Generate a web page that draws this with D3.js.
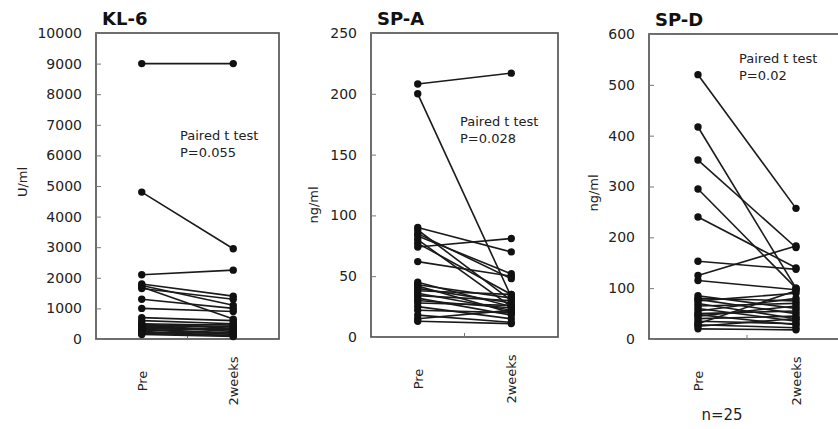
<!DOCTYPE html>
<html>
<head>
<meta charset="utf-8">
<script src="https://cdn.jsdelivr.net/npm/d3@7"></script>
<style>
  body { margin: 0; background: #fff; }
  svg { display: block; }
  text { font-family: "DejaVu Sans", sans-serif; }
</style>
</head>
<body>
<svg width="838" height="429"></svg>
<script>
// time points
var timepoints = ['Pre', '2weeks'];

// KL-6 (U/ml)
var klPre = [9000, 4800, 2100, 1800, 1750, 1700, 1650, 1300, 1000, 700, 600, 500, 480, 450, 420, 400, 380, 350, 320, 300, 280, 250, 200, 180, 150];
var kl2w  = [9000, 2950, 2250, 1400, 1100, 650, 1300, 1000, 900, 600, 500, 450, 350, 400, 300, 250, 500, 300, 200, 150, 350, 100, 200, 120, 80];
var klTicks = [0, 1000, 2000, 3000, 4000, 5000, 6000, 7000, 8000, 9000, 10000];

// SP-A (ng/ml)
var spaPre = [208, 200, 90, 88, 85, 83, 80, 77, 74, 62, 45, 43, 42, 40, 38, 36, 34, 32, 30, 28, 25, 22, 18, 15, 13];
var spa2w  = [217, 33, 70, 30, 48, 52, 25, 35, 81, 50, 25, 32, 20, 28, 35, 22, 30, 18, 24, 26, 15, 20, 12, 22, 11];
var spaTicks = [0, 50, 100, 150, 200, 250];

// SP-D (ng/ml)
var spdPre = [520, 417, 352, 295, 240, 153, 125, 115, 85, 80, 78, 75, 70, 65, 60, 55, 50, 48, 45, 40, 35, 30, 28, 25, 20];
var spd2w  = [257, 100, 180, 100, 140, 137, 183, 97, 60, 75, 50, 90, 40, 70, 35, 80, 55, 28, 65, 45, 30, 95, 22, 40, 18];
var spdTicks = [0, 100, 200, 300, 400, 500, 600];

var panels = [
  {title: 'KL-6', unit: 'U/ml', pre: klPre, post: kl2w, ticks: klTicks, max: 10000,
   left: 96, right: 279, top: 33, bottom: 339, unitX: 22, unitY: 182,
   note: ['Paired t test', 'P=0.055'], noteX: 180, noteY: 140},
  {title: 'SP-A', unit: 'ng/ml', pre: spaPre, post: spa2w, ticks: spaTicks, max: 250,
   left: 371, right: 558, top: 33, bottom: 337, unitX: 313, unitY: 205,
   note: ['Paired t test', 'P=0.028'], noteX: 460, noteY: 126},
  {title: 'SP-D', unit: 'ng/ml', pre: spdPre, post: spd2w, ticks: spdTicks, max: 600,
   left: 649, right: 845, top: 34, bottom: 339, unitX: 593, unitY: 193,
   note: ['Paired t test', 'P=0.02'], noteX: 739, noteY: 63}
];

var svg = d3.select('svg');

panels.forEach(function(p) {
  var g = svg.append('g');

  var y = d3.scaleLinear().domain([0, p.max]).range([p.bottom, p.top]);
  var x = d3.scalePoint().domain(timepoints).range([p.left, p.right]).padding(0.5);

  // frame
  g.append('rect')
    .attr('x', p.left).attr('y', p.top)
    .attr('width', p.right - p.left).attr('height', p.bottom - p.top)
    .attr('fill', 'none').attr('stroke', '#555').attr('stroke-width', 1.7);

  // y axis, ticks pointing inside
  var ya = g.append('g')
    .attr('transform', 'translate(' + p.left + ',0)')
    .call(d3.axisLeft(y).tickValues(p.ticks).tickSizeInner(-5).tickSizeOuter(0).tickPadding(14).tickFormat(d3.format('d')));
  ya.select('.domain').remove();
  ya.selectAll('line').attr('stroke', '#777');
  ya.selectAll('text').attr('font-size', 14).attr('fill', '#222')
    .attr('font-family', '"DejaVu Sans", sans-serif');

  // x axis: no ticks at the points, one small tick in the middle
  var xa = g.append('g')
    .attr('transform', 'translate(0,' + p.bottom + ')')
    .call(d3.axisBottom(x).tickSize(0).tickPadding(0));
  xa.select('.domain').remove();
  xa.selectAll('.tick text')
    .attr('font-size', 13).attr('fill', '#222')
    .attr('font-family', '"DejaVu Sans", sans-serif')
    .attr('text-anchor', 'middle')
    .attr('dy', null).attr('y', null)
    .attr('transform', 'translate(0,42) rotate(-90)')
    .attr('dominant-baseline', 'central');
  var mid = d3.mean(x.range());
  g.append('line')
    .attr('x1', mid).attr('x2', mid)
    .attr('y1', p.bottom).attr('y2', p.bottom - 4)
    .attr('stroke', '#777');

  // paired lines
  var pairs = p.pre.map(function(v, i) { return [v, p.post[i]]; });
  g.selectAll('line.pair')
    .data(pairs)
    .enter()
    .append('line')
    .attr('class', 'pair')
    .attr('x1', x('Pre')).attr('x2', x('2weeks'))
    .attr('y1', function(d) { return y(d[0]); })
    .attr('y2', function(d) { return y(d[1]); })
    .attr('stroke', '#1a1a1a').attr('stroke-width', 1.6);

  // dots
  g.selectAll('circle.pre')
    .data(p.pre).enter().append('circle')
    .attr('cx', x('Pre')).attr('cy', function(d) { return y(d); })
    .attr('r', 3.7).attr('fill', '#111');
  g.selectAll('circle.post')
    .data(p.post).enter().append('circle')
    .attr('cx', x('2weeks')).attr('cy', function(d) { return y(d); })
    .attr('r', 3.7).attr('fill', '#111');

  // title
  g.append('text')
    .attr('x', p.left + 6).attr('y', p.top - 8)
    .attr('font-size', 18).attr('font-weight', 'bold').attr('fill', '#111')
    .text(p.title);

  // unit label
  g.append('text')
    .attr('transform', 'translate(' + p.unitX + ',' + p.unitY + ') rotate(-90)')
    .attr('text-anchor', 'middle').attr('dominant-baseline', 'central')
    .attr('font-size', 13).attr('fill', '#222')
    .text(p.unit);

  // test annotation
  g.selectAll('text.note')
    .data(p.note).enter().append('text')
    .attr('class', 'note')
    .attr('x', p.noteX).attr('y', function(d, i) { return p.noteY + i * 17; })
    .attr('font-size', 13).attr('fill', '#222')
    .text(function(d) { return d; });
});

svg.append('text')
  .attr('x', 722).attr('y', 420)
  .attr('text-anchor', 'middle')
  .attr('font-size', 15).attr('fill', '#222')
  .text('n=25');
</script>
</body>
</html>
